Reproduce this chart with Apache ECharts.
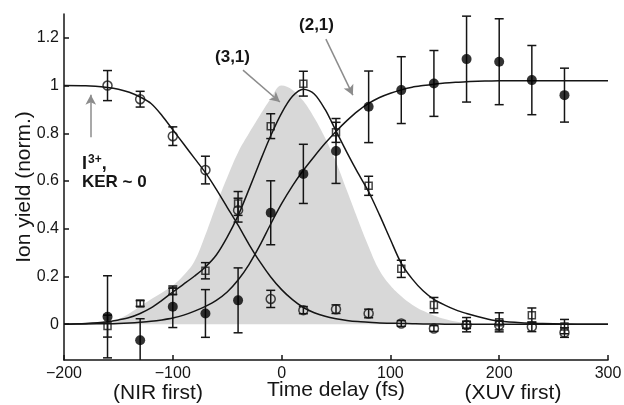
<!DOCTYPE html>
<html>
<head>
<meta charset="utf-8">
<script src="https://cdn.jsdelivr.net/npm/echarts@6/dist/echarts.min.js"></script>
<style>
    html, body { margin: 0; padding: 0; background: #fff; }
    #chart { width: 624px; height: 405px; }
</style>
</head>
<body>
<div id="chart"></div>
<script>
    // measured delays (fs)
    var delays = [-160, -130, -100, -70, -40, -10, 20, 50, 80, 110, 140, 170, 200, 230, 260];

    // I3+, KER ~ 0 (open circles)
    var yieldI3 = [1.0, 0.943, 0.788, 0.646, 0.478, 0.106, 0.059, 0.063, 0.045, 0.003, -0.018, -0.003, -0.004, -0.011, -0.035];
    var errI3 = [0.063, 0.033, 0.039, 0.058, 0.05, 0.036, 0.015, 0.018, 0.018, 0.012, 0.012, 0.015, 0.02, 0.02, 0.02];

    // (3,1) open squares
    var yield31 = [-0.008, 0.087, 0.138, 0.224, 0.506, 0.83, 1.008, 0.804, 0.58, 0.232, 0.08, -0.002, 0.008, 0.038, -0.01];
    var err31 = [0.046, 0.012, 0.013, 0.034, 0.05, 0.052, 0.052, 0.042, 0.04, 0.036, 0.032, 0.03, 0.04, 0.03, 0.03];

    // (2,1) filled circles
    var yield21 = [0.031, -0.067, 0.073, 0.045, 0.1, 0.467, 0.63, 0.726, 0.911, 0.981, 1.009, 1.111, 1.1, 1.023, 0.96];
    var err21 = [0.172, 0.09, 0.087, 0.1, 0.136, 0.134, 0.124, 0.136, 0.15, 0.14, 0.138, 0.18, 0.18, 0.145, 0.113];

    // fitted curves
    var fitX = [-200, -180, -160, -150, -140, -130, -120, -110, -100, -90, -80, -70, -60, -50, -40, -30, -20, -10, 0, 10,
        20, 30, 40, 50, 60, 70, 80, 90, 100, 110, 120, 130, 140, 150, 160, 170, 180, 190, 200, 220, 240, 260, 280, 300];
    var fitI3 = [1.0, 0.999, 0.992, 0.985, 0.972, 0.952, 0.925, 0.875, 0.815, 0.755, 0.695, 0.635, 0.565, 0.49, 0.415, 0.335, 0.262, 0.198, 0.145, 0.103,
        0.07, 0.048, 0.033, 0.023, 0.016, 0.011, 0.008, 0.005, 0.004, 0.003, 0.002, 0.001, 0.001, 0, 0, 0, 0, 0, 0, 0, 0, 0, 0, 0];
    var fit31 = [0, 0.003, 0.01, 0.018, 0.028, 0.045, 0.068, 0.1, 0.135, 0.168, 0.202, 0.24, 0.29, 0.365, 0.455, 0.565, 0.68, 0.79, 0.885, 0.955,
        0.985, 0.965, 0.9, 0.81, 0.72, 0.635, 0.555, 0.458, 0.355, 0.255, 0.19, 0.14, 0.104, 0.08, 0.06, 0.045, 0.032, 0.021, 0.013, 0.006, 0.003, 0.001, 0, 0];
    var fit21 = [0, 0.001, 0.002, 0.003, 0.005, 0.008, 0.012, 0.018, 0.026, 0.038, 0.055, 0.075, 0.1, 0.135, 0.185, 0.25, 0.33, 0.42, 0.505, 0.58,
        0.645, 0.703, 0.758, 0.808, 0.853, 0.893, 0.925, 0.95, 0.968, 0.982, 0.993, 1.0, 1.006, 1.011, 1.014, 1.016, 1.018, 1.019, 1.02, 1.02, 1.02, 1.02, 1.02, 1.02];

    // NIR pulse envelope (grey shading)
    var pulseX = [-160, -150, -140, -130, -120, -110, -100, -90, -80, -70, -60, -50, -40, -30, -20, -10, 0, 10, 20, 30,
        40, 50, 60, 70, 80, 90, 100, 110, 120, 130, 140, 150, 160, 170, 180];
    var pulseY = [0, 0.02, 0.045, 0.075, 0.105, 0.132, 0.162, 0.205, 0.265, 0.375, 0.5, 0.615, 0.72, 0.8, 0.875, 0.945, 1.0, 0.982, 0.935, 0.865,
        0.78, 0.68, 0.56, 0.44, 0.325, 0.225, 0.162, 0.117, 0.082, 0.056, 0.037, 0.022, 0.011, 0.004, 0];

    var yTicks = [0, 0.2, 0.4, 0.6, 0.8, 1, 1.2];

    // annotation arrows [x, y] in data units
    var arrowFrom = [[-35.5, 1.065], [40.7, 1.195], [-175.4, 0.784]];
    var arrowTo = [[-1.6, 0.931], [65.5, 0.96], [-175.4, 0.962]];

    function zip(xs, ys) {
        return xs.map(function (x, i) { return [x, ys[i]]; });
    }
    function bars(ys, es) {
        return delays.map(function (x, i) { return [x, ys[i] - es[i], ys[i] + es[i]]; });
    }

    var ink = '#151515';
    var font = 'Liberation Sans, Arial, Helvetica, sans-serif';

    function renderBar(params, api) {
        var x = api.value(0);
        var lo = api.coord([x, api.value(1)]);
        var hi = api.coord([x, api.value(2)]);
        var w = 4.5;
        var st = { stroke: ink, lineWidth: 1.5 };
        return {
            type: 'group',
            children: [
                { type: 'line', shape: { x1: hi[0], y1: hi[1], x2: lo[0], y2: lo[1] }, style: st },
                { type: 'line', shape: { x1: hi[0] - w, y1: hi[1], x2: hi[0] + w, y2: hi[1] }, style: st },
                { type: 'line', shape: { x1: lo[0] - w, y1: lo[1], x2: lo[0] + w, y2: lo[1] }, style: st }
            ]
        };
    }

    function errSeries(ys, es) {
        return {
            type: 'custom',
            renderItem: renderBar,
            data: bars(ys, es),
            clip: true,
            silent: true,
            z: 4
        };
    }

    function fitSeries(ys) {
        return {
            type: 'line',
            data: zip(fitX, ys),
            smooth: 0.3,
            showSymbol: false,
            symbol: 'none',
            lineStyle: { color: ink, width: 1.5 },
            silent: true,
            z: 3
        };
    }

    var myChart = echarts.init(document.getElementById('chart'), null, { renderer: 'canvas' });

    var option = {
        animation: false,
        backgroundColor: '#fff',
        grid: { left: 64, right: 16, top: 14, bottom: 45, outerBoundsMode: 'none' },
        xAxis: {
            type: 'value',
            min: -200,
            max: 300,
            interval: 100,
            name: 'Time delay (fs)',
            nameLocation: 'middle',
            nameGap: 20,
            nameMoveOverlap: false,
            nameTextStyle: { fontSize: 21, color: ink, fontFamily: font },
            axisLine: { onZero: false, lineStyle: { color: ink, width: 1.5 } },
            axisTick: { inside: true, length: 5, lineStyle: { color: ink, width: 1.5 } },
            axisLabel: {
                fontSize: 16, color: ink, fontFamily: font, margin: 6,
                formatter: function (v) { return String(v).replace('-', '\u2212'); }
            },
            splitLine: { show: false }
        },
        yAxis: {
            type: 'value',
            min: -0.15,
            max: 1.3,
            name: 'Ion yield (norm.)',
            nameLocation: 'middle',
            nameGap: 29,
            nameMoveOverlap: false,
            nameTextStyle: { fontSize: 21, color: ink, fontFamily: font },
            axisLine: { onZero: false, lineStyle: { color: ink, width: 1.5 } },
            axisTick: { inside: true, length: 5, customValues: yTicks, lineStyle: { color: ink, width: 1.5 } },
            axisLabel: { fontSize: 16, color: ink, fontFamily: font, margin: 5, customValues: yTicks },
            splitLine: { show: false }
        },
        graphic: [
            { type: 'text', x: 158, y: 393, style: { text: '(NIR first)', font: '21px ' + font, fill: ink, align: 'center', verticalAlign: 'middle' } },
            { type: 'text', x: 513, y: 393, style: { text: '(XUV first)', font: '21px ' + font, fill: ink, align: 'center', verticalAlign: 'middle' } },
            { type: 'text', x: 232.5, y: 57.5, style: { text: '(3,1)', font: 'bold 17px ' + font, fill: ink, align: 'center', verticalAlign: 'middle' } },
            { type: 'text', x: 316.5, y: 25.5, style: { text: '(2,1)', font: 'bold 17px ' + font, fill: ink, align: 'center', verticalAlign: 'middle' } },
            {
                type: 'text', x: 82, y: 164,
                style: {
                    text: '{a|I}{s|3+}{a|,}',
                    verticalAlign: 'middle',
                    rich: {
                        a: { font: 'bold 18px ' + font, fill: ink },
                        s: { font: 'bold 12px ' + font, fill: ink, verticalAlign: 'top', padding: [0, 0, 8, 1] }
                    }
                }
            },
            { type: 'text', x: 82, y: 182.5, style: { text: 'KER ~ 0', font: 'bold 17px ' + font, fill: ink, verticalAlign: 'middle' } }
        ],
        series: [
            {
                type: 'line',
                data: zip(pulseX, pulseY),
                smooth: 0.4,
                symbol: 'none',
                lineStyle: { width: 0 },
                areaStyle: { color: '#d8d8d8', opacity: 1 },
                silent: true,
                z: 1,
                markLine: {
                    silent: true,
                    symbol: ['none', 'arrow'],
                    symbolSize: [8, 10],
                    label: { show: false },
                    lineStyle: { color: '#8c8c8c', width: 1.5, type: 'solid' },
                    data: arrowFrom.map(function (p, i) {
                        return [{ coord: p }, { coord: arrowTo[i] }];
                    })
                }
            },
            fitSeries(fitI3),
            fitSeries(fit31),
            fitSeries(fit21),
            errSeries(yieldI3, errI3),
            errSeries(yield31, err31),
            errSeries(yield21, err21),
            {
                type: 'scatter',
                data: zip(delays, yieldI3),
                symbol: 'circle',
                symbolSize: 9,
                itemStyle: { color: 'rgba(0,0,0,0)', borderColor: ink, borderWidth: 1.5 },
                silent: true,
                z: 5
            },
            {
                type: 'scatter',
                data: zip(delays, yield31),
                symbol: 'rect',
                symbolSize: 7,
                itemStyle: { color: 'rgba(0,0,0,0)', borderColor: ink, borderWidth: 1.5 },
                silent: true,
                z: 5
            },
            {
                type: 'scatter',
                data: zip(delays, yield21),
                symbol: 'circle',
                symbolSize: 10,
                itemStyle: { color: '#000' },
                silent: true,
                z: 5
            }
        ]
    };

    myChart.setOption(option, true);
</script>
</body>
</html>
